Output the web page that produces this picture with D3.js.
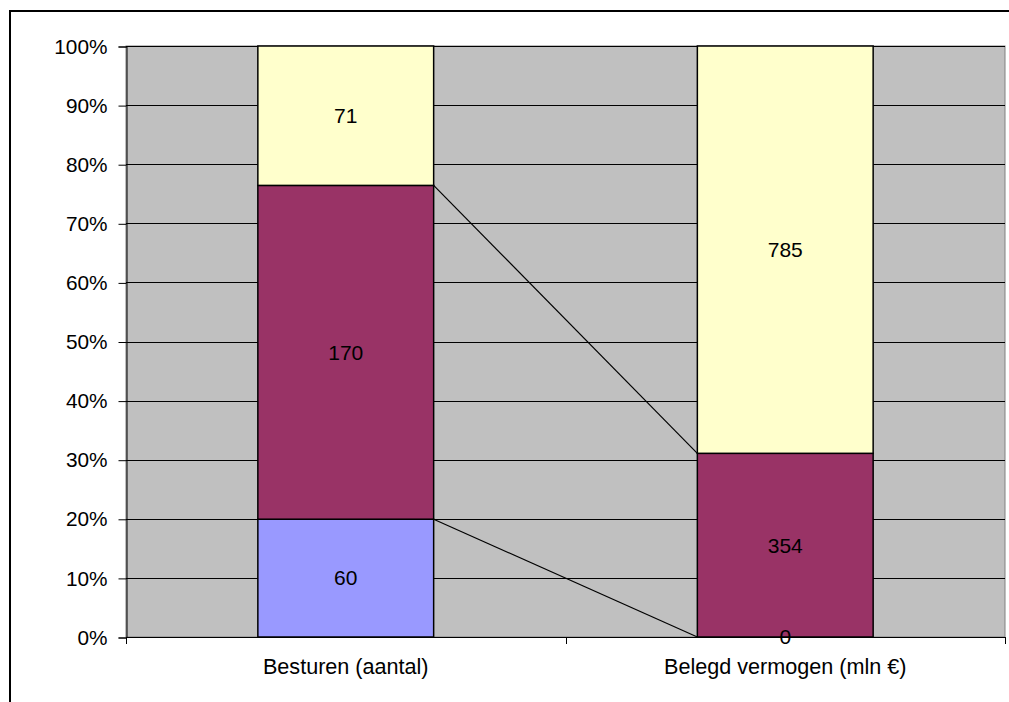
<!DOCTYPE html>
<html>
<head>
<meta charset="utf-8">
<script src="https://cdn.jsdelivr.net/npm/d3@7"></script>
<style>
  body { margin: 0; background: #fff; }
  svg text { font-family: "Liberation Sans", Arial, sans-serif; font-size: 21px; fill: #000; }
</style>
</head>
<body>
<div id="chart"></div>
<script>
// data
const categories = ["Besturen (aantal)", "Belegd vermogen (mln €)"];
const seriesNames = ["s1", "s2", "s3"];
const series1 = [60, 0];
const series2 = [170, 354];
const series3 = [71, 785];
const colors = ["#9999FF", "#993366", "#FFFFCC"];
const yTicks = [0, 0.1, 0.2, 0.3, 0.4, 0.5, 0.6, 0.7, 0.8, 0.9, 1];

const rows = categories.map(function (c, i) {
    return { cat: c, s1: series1[i], s2: series2[i], s3: series3[i] };
});

const W = 1009, H = 702;
const plot = { left: 126, top: 46, right: 1005, bottom: 637 };

const svg = d3.select("#chart").append("svg")
    .attr("width", W)
    .attr("height", H);

// outer chart frame (runs off the right and bottom edge)
svg.append("rect")
    .attr("x", 10).attr("y", 11)
    .attr("width", 1020).attr("height", 720)
    .attr("fill", "#fff")
    .attr("stroke", "#000")
    .attr("stroke-width", 2);

const x = d3.scaleBand()
    .domain(categories)
    .range([plot.left, plot.right])
    .paddingInner(0.6)
    .paddingOuter(0.3);

const y = d3.scaleLinear()
    .domain([0, 1])
    .range([plot.bottom, plot.top]);

const stack = d3.stack().keys(seriesNames).offset(d3.stackOffsetExpand);
const stacked = stack(rows);

// plot area
svg.append("rect")
    .attr("x", plot.left).attr("y", plot.top)
    .attr("width", plot.right - plot.left)
    .attr("height", plot.bottom - plot.top)
    .attr("fill", "#C0C0C0")
    .attr("stroke", "#808080")
    .attr("stroke-width", 1);

// gridlines
svg.append("g").selectAll("line")
    .data(yTicks.filter(function (t) { return t > 0; }))
    .enter().append("line")
    .attr("x1", plot.left).attr("x2", plot.right)
    .attr("y1", function (d) { return Math.round(y(d)) + 0.5; })
    .attr("y2", function (d) { return Math.round(y(d)) + 0.5; })
    .attr("stroke", "#000")
    .attr("stroke-width", 1);

// y axis
const yAxis = d3.axisLeft(y)
    .tickValues(yTicks)
    .tickFormat(d3.format(".0%"))
    .tickSize(8)
    .tickPadding(11);

svg.append("g")
    .attr("transform", "translate(" + (plot.left + 0.5) + ",0.5)")
    .call(yAxis)
    .call(function (g) {
        g.selectAll("text").style("font-size", "20.8px").attr("font-family", null);
        g.selectAll("line").attr("stroke", "#000");
        g.select(".domain").attr("stroke", "#000");
    });

// series lines between bars
const lineData = [0, 1].map(function (k) {
    return {
        x1: x(categories[0]) + x.bandwidth(),
        y1: y(stacked[k][0][1]),
        x2: x(categories[1]),
        y2: y(stacked[k][1][1])
    };
});
svg.append("g").selectAll("line")
    .data(lineData)
    .enter().append("line")
    .attr("x1", function (d) { return d.x1; })
    .attr("y1", function (d) { return d.y1; })
    .attr("x2", function (d) { return d.x2; })
    .attr("y2", function (d) { return d.y2; })
    .attr("stroke", "#000")
    .attr("stroke-width", 1.2);

// bars
const layer = svg.append("g").selectAll("g")
    .data(stacked)
    .enter().append("g")
    .attr("fill", function (d, i) { return colors[i]; });

layer.selectAll("rect")
    .data(function (d) { return d; })
    .enter().append("rect")
    .attr("x", function (d) { return x(d.data.cat); })
    .attr("y", function (d) { return y(d[1]); })
    .attr("width", x.bandwidth())
    .attr("height", function (d) { return y(d[0]) - y(d[1]); })
    .attr("stroke", "#000")
    .attr("stroke-width", 1.5);

// x axis line and ticks
svg.append("line")
    .attr("x1", plot.left).attr("x2", plot.right)
    .attr("y1", plot.bottom + 0.5).attr("y2", plot.bottom + 0.5)
    .attr("stroke", "#000");

const catTicks = [plot.left, (plot.left + plot.right) / 2, plot.right];
svg.append("g").selectAll("line")
    .data(catTicks)
    .enter().append("line")
    .attr("x1", function (d) { return Math.round(d) + 0.5; })
    .attr("x2", function (d) { return Math.round(d) + 0.5; })
    .attr("y1", plot.bottom).attr("y2", plot.bottom + 7)
    .attr("stroke", "#000");

svg.append("g").selectAll("text")
    .data(categories)
    .enter().append("text")
    .attr("x", function (d) { return x(d) + x.bandwidth() / 2; })
    .attr("y", 674)
    .attr("text-anchor", "middle")
    .style("font-size", "21.6px")
    .text(function (d) { return d; });

// data labels
stacked.forEach(function (s) {
    svg.append("g").selectAll("text")
        .data(s)
        .enter().append("text")
        .attr("x", function (d) { return x(d.data.cat) + x.bandwidth() / 2; })
        .attr("y", function (d) { return (y(d[0]) + y(d[1])) / 2; })
        .attr("dy", "0.35em")
        .attr("text-anchor", "middle")
        .text(function (d) { return d.data[s.key]; });
});
</script>
</body>
</html>
